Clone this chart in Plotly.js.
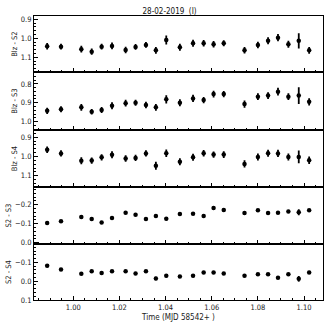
<!DOCTYPE html>
<html>
<head>
<meta charset="utf-8">
<script src="https://cdn.plot.ly/plotly-3.0.1.min.js"></script>
<style>
  html, body { margin: 0; padding: 0; background: #fff; }
  #chart { width: 327px; height: 327px; }
</style>
</head>
<body>
<div id="chart"></div>
<script>
// time of each observation (MJD - 58542)
var times = [0.9887, 0.9947, 1.0035, 1.0080, 1.0123, 1.0168, 1.0227, 1.0270, 1.0315, 1.0358, 1.0403, 1.0462,
             1.0519, 1.0565, 1.0608, 1.0652, 1.0742, 1.0800, 1.0844, 1.0887, 1.0932, 1.0977, 1.1022];

var panelNames = ['Blz - S2', 'Blz - S3', 'Blz - S4', 'S2 - S3', 'S2 - S4'];

var blzS2 = [1.042, 1.044, 1.057, 1.070, 1.044, 1.040, 1.061, 1.045, 1.035, 1.063, 1.009, 1.047,
             1.026, 1.026, 1.031, 1.026, 1.063, 1.035, 1.013, 0.997, 1.031, 1.013, 1.063];
var blzS2err = [0.017, 0.015, 0.018, 0.016, 0.015, 0.018, 0.017, 0.015, 0.015, 0.018, 0.024, 0.018,
                0.018, 0.017, 0.017, 0.016, 0.017, 0.017, 0.018, 0.019, 0.018, 0.040, 0.018];

var blzS3 = [0.943, 0.935, 0.924, 0.948, 0.939, 0.916, 0.902, 0.900, 0.912, 0.924, 0.882, 0.900,
             0.877, 0.886, 0.854, 0.854, 0.907, 0.868, 0.862, 0.841, 0.868, 0.862, 0.895];
var blzS3err = [0.017, 0.016, 0.018, 0.015, 0.016, 0.018, 0.018, 0.016, 0.017, 0.018, 0.022, 0.018,
                0.019, 0.017, 0.018, 0.017, 0.019, 0.018, 0.018, 0.020, 0.018, 0.044, 0.019];

var blzS4 = [0.965, 0.984, 1.022, 1.021, 1.004, 0.991, 1.010, 1.007, 0.984, 1.048, 0.983, 1.027,
             1.004, 0.983, 0.990, 0.990, 1.038, 1.002, 0.983, 0.984, 1.002, 1.002, 1.019];
var blzS4err = [0.017, 0.016, 0.018, 0.016, 0.016, 0.018, 0.017, 0.016, 0.016, 0.021, 0.019, 0.018,
                0.018, 0.017, 0.016, 0.017, 0.019, 0.018, 0.018, 0.019, 0.018, 0.033, 0.019];

var s2S3 = [-0.104, -0.113, -0.135, -0.125, -0.107, -0.130, -0.158, -0.147, -0.125, -0.141, -0.126, -0.151,
            -0.153, -0.141, -0.183, -0.172, -0.156, -0.171, -0.156, -0.158, -0.165, -0.160, -0.171];
var s2S3err = [0.006, 0.006, 0.008, 0.006, 0.006, 0.007, 0.007, 0.006, 0.006, 0.008, 0.008, 0.007,
               0.007, 0.007, 0.007, 0.007, 0.007, 0.007, 0.007, 0.007, 0.007, 0.016, 0.007];

var s2S4 = [-0.081, -0.062, -0.039, -0.053, -0.043, -0.052, -0.052, -0.041, -0.052, -0.014, -0.028, -0.025,
            -0.028, -0.046, -0.046, -0.041, -0.028, -0.037, -0.036, -0.018, -0.036, -0.012, -0.046];
var s2S4err = [0.007, 0.006, 0.007, 0.006, 0.006, 0.006, 0.006, 0.006, 0.006, 0.009, 0.008, 0.007,
               0.008, 0.006, 0.006, 0.006, 0.007, 0.006, 0.007, 0.007, 0.007, 0.015, 0.008];

var series = [blzS2, blzS3, blzS4, s2S3, s2S4];
var errors = [blzS2err, blzS3err, blzS4err, s2S3err, s2S4err];

// y ranges are reversed (magnitudes)
var yRanges = [[1.178, 0.883], [1.044, 0.738], [1.159, 0.862], [0.007, -0.292], [0.1005, -0.197]];
var domains = [[0.802, 1], [0.599, 0.802], [0.397, 0.599], [0.197, 0.397], [0, 0.197]];

var fontFam = 'DejaVu Sans Condensed, DejaVu Sans, sans-serif';

var data = [];
var layout = {
  width: 327,
  height: 327,
  margin: {l: 34, r: 4, t: 16, b: 27},
  paper_bgcolor: '#fff',
  plot_bgcolor: '#fff',
  showlegend: false,
  font: {family: fontFam, size: 8, color: '#222'},
  title: {text: '28-02-2019  (I)', x: 0.469, xref: 'paper', y: 0.975, yref: 'container',
          font: {family: fontFam, size: 8, color: '#111'}}
};

for (var i = 0; i < series.length; i++) {
  var n = i + 1;
  var xa = n === 1 ? 'x' : 'x' + n;
  var ya = n === 1 ? 'y' : 'y' + n;
  data.push({
    x: times,
    y: series[i],
    xaxis: xa,
    yaxis: ya,
    type: 'scatter',
    mode: 'markers',
    marker: {color: '#000', size: 4.5},
    error_y: {type: 'data', array: errors[i], visible: true, color: '#000', thickness: 1.8, width: 0}
  });
  var last = (i === series.length - 1);
  layout['xaxis' + (n === 1 ? '' : n)] = {
    anchor: ya,
    domain: [0, 1],
    range: [0.983, 1.1082],
    matches: n === 1 ? undefined : 'x',
    showticklabels: last,
    dtick: 0.02,
    tickformat: '.2f',
    ticks: 'inside',
    ticklen: 4,
    tickcolor: '#000',
    minor: {dtick: 0.005, ticks: 'inside', ticklen: 2, tickcolor: '#000'},
    showgrid: false,
    zeroline: false,
    showline: true,
    mirror: true,
    linecolor: '#000',
    linewidth: 1,
    tickfont: {size: 7.5},
    title: last ? {text: 'Time (MJD 58542+ )', standoff: 3, font: {size: 8}} : undefined
  };
  layout['yaxis' + (n === 1 ? '' : n)] = {
    anchor: xa,
    domain: domains[i],
    range: yRanges[i],
    dtick: 0.1,
    tickformat: '.1f',
    ticks: 'inside',
    ticklen: 4,
    tickcolor: '#000',
    minor: {dtick: 0.02, ticks: 'inside', ticklen: 2, tickcolor: '#000'},
    showgrid: false,
    zeroline: false,
    showline: true,
    mirror: true,
    linecolor: '#000',
    linewidth: 1,
    tickfont: {size: 7.5},
    title: {text: panelNames[i], standoff: 2, font: {size: 7.5}}
  };
}

Plotly.newPlot('chart', data, layout, {displayModeBar: false, staticPlot: true});
</script>
</body>
</html>
